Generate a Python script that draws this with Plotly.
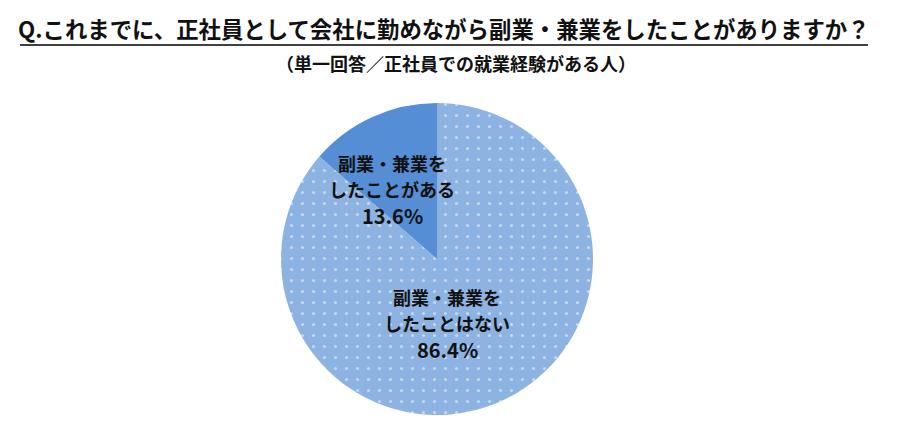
import plotly.graph_objects as go

categories = ["副業・兼業を<br>したことはない", "副業・兼業を<br>したことがある"]
values = [86.4, 13.6]
colors = ["#8DB3E2", "#558ED5"]

W, H = 904, 448
cx, cy, r = 437, 259, 156

FONT = "Noto Sans CJK JP"

fig = go.Figure()
fig.add_trace(go.Pie(
    labels=categories,
    values=values,
    sort=False,
    direction="clockwise",
    rotation=0,
    textinfo="none",
    hoverinfo="label+percent",
    marker=dict(
        colors=colors,
        line=dict(width=0),
        pattern=dict(shape=[".", ""], fgcolor="white", bgcolor=colors, size=11, solidity=0.06, fillmode="overlay"),
    ),
    domain=dict(x=[(cx - r) / W, (cx + r) / W], y=[(H - cy - r) / H, (H - cy + r) / H]),
    showlegend=False,
))

# labels inside slices, one annotation per line
label_pos = [(447, 323), (392, 189)]
line_gap = 26
for cat, v, (lx, ly) in zip(categories, values, label_pos):
    lines = cat.split("<br>") + [f"{v:.1f}%"]
    n = len(lines)
    for i, t in enumerate(lines):
        yy = ly + (i - (n - 1) / 2) * line_gap
        fs = 20 if i == n - 1 else 18
        fig.add_annotation(
            x=lx / W, y=1 - yy / H, xref="paper", yref="paper",
            text=f"<b>{t}</b>", showarrow=False,
            font=dict(family=FONT, size=fs, color="#111111"),
            align="center", xanchor="center", yanchor="middle",
        )

fig.add_annotation(
    x=444 / W, y=1 - 28 / H, xref="paper", yref="paper",
    text="<b>Q.これまでに、正社員として会社に勤めながら副業・兼業をしたことがありますか？</b>",
    showarrow=False, font=dict(family=FONT, size=22.4, color="#111111"),
    xanchor="center", yanchor="middle",
)
fig.add_annotation(
    x=456 / W, y=1 - 63 / H, xref="paper", yref="paper",
    text="<b>（単一回答／正社員での就業経験がある人）</b>",
    showarrow=False, font=dict(family=FONT, size=18, color="#111111"),
    xanchor="center", yanchor="middle",
)
fig.add_shape(type="line", xref="paper", yref="paper",
              x0=20 / W, x1=868 / W, y0=1 - 45 / H, y1=1 - 45 / H,
              line=dict(color="#000000", width=1.5))

fig.update_layout(
    width=W, height=H,
    margin=dict(l=0, r=0, t=0, b=0),
    paper_bgcolor="white", plot_bgcolor="white",
)
fig.write_html("out.html")
